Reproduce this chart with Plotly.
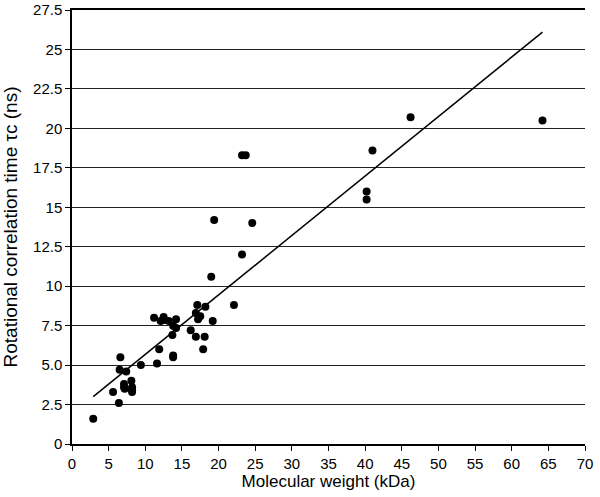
import plotly.graph_objects as go

mw_kda = [2.9, 5.6, 6.4, 6.6, 6.5, 7.4, 7.1, 7.1, 7.2, 8.1, 8.2, 8.2, 8.2, 9.4,
          11.2, 11.6, 11.9, 12.1, 12.5, 12.6, 13.2, 13.8, 14.2, 14.2, 13.7, 13.8, 13.8,
          16.2, 16.9, 17.1, 18.2, 16.9, 17.5, 17.2, 18.1, 17.9, 19.2, 22.1,
          19.0, 23.2, 19.4, 24.6, 23.2, 23.7, 40.2, 40.2, 41.0, 46.2, 64.2]
tau_ns = [1.6, 3.3, 2.6, 5.5, 4.7, 4.6, 3.8, 3.6, 3.5, 4.0, 3.6, 3.4, 3.3, 5.0,
          8.0, 5.1, 6.0, 7.8, 8.05, 7.85, 7.8, 7.5, 7.35, 7.9, 6.9, 5.6, 5.5,
          7.2, 6.8, 8.8, 8.7, 8.3, 8.1, 7.9, 6.8, 6.0, 7.8, 8.8,
          10.6, 12.0, 14.2, 14.0, 18.3, 18.3, 16.0, 15.5, 18.6, 20.7, 20.5]

trend_x = [2.9, 64.2]
trend_y = [3.0, 26.1]

x_ticks = list(range(0, 75, 5))
y_ticks = [0, 2.5, 5, 7.5, 10, 12.5, 15, 17.5, 20, 22.5, 25, 27.5]
y_tick_labels = ["0", "2.5", "5.0", "7.5", "10", "12.5", "15", "17.5", "20", "22.5", "25", "27.5"]

fig = go.Figure()
fig.add_trace(go.Scatter(x=mw_kda, y=tau_ns, mode="markers",
                         marker=dict(color="black", size=8), showlegend=False))
fig.add_trace(go.Scatter(x=trend_x, y=trend_y, mode="lines",
                         line=dict(color="black", width=1.5), showlegend=False))

font_family = "Liberation Sans, Arial, sans-serif"
fig.update_layout(
    width=600, height=497,
    margin=dict(l=72, r=15, t=10, b=53),
    paper_bgcolor="white", plot_bgcolor="white",
    font=dict(family=font_family, color="black", size=15),
    xaxis=dict(range=[0, 70], tickvals=x_ticks, showgrid=False, automargin=False,
               showline=True, linecolor="black", linewidth=1.5, mirror=True,
               ticks="outside", ticklen=5, tickcolor="black", ticklabeloverflow="allow",
               tickfont=dict(size=15), zeroline=False,
               title=dict(text="Molecular weight (kDa)", font=dict(size=17), standoff=2)),
    yaxis=dict(range=[0, 27.5], tickvals=y_ticks, ticktext=y_tick_labels, automargin=False,
               showgrid=True, gridcolor="#222222", gridwidth=1,
               showline=True, linecolor="black", linewidth=1.5,
               ticks="outside", ticklen=5, tickcolor="black", ticklabeloverflow="allow",
               tickfont=dict(size=15), zeroline=False,
               title=dict(text="Rotational correlation time τc (ns)", font=dict(size=19), standoff=12)),
)

fig.write_html("out.html", config={"displayModeBar": False},
               post_script="document.body.style.margin='0';")
